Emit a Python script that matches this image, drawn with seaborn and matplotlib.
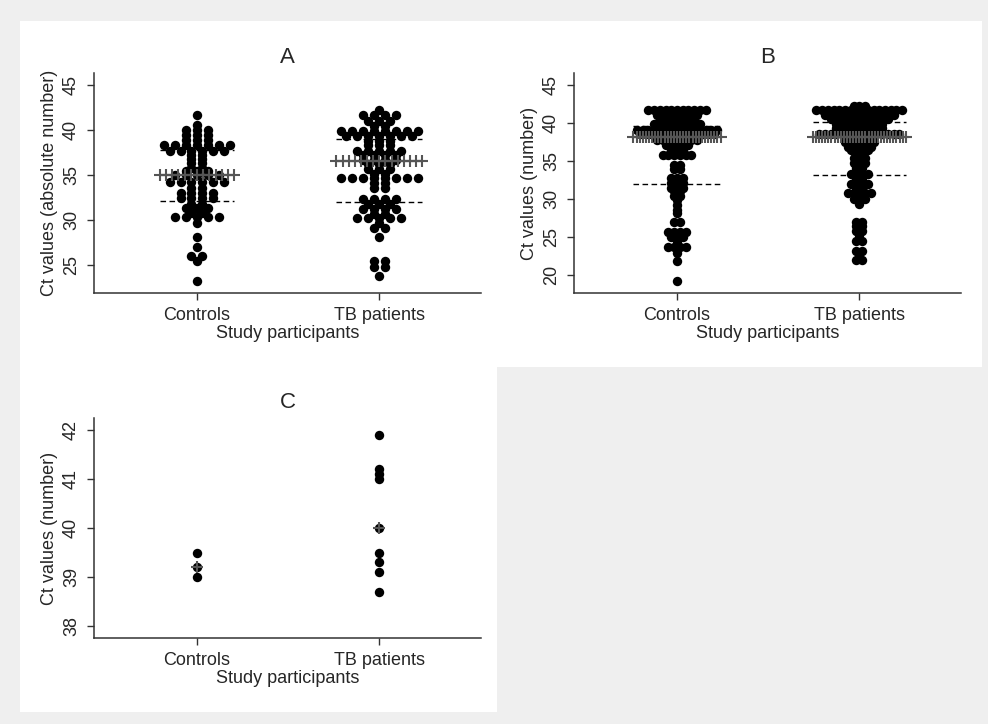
import numpy as np
import pandas as pd
import matplotlib
matplotlib.use("Agg")
import matplotlib.pyplot as plt
from matplotlib.patches import Rectangle
import seaborn as sns

sns.set_style("ticks")
plt.rcParams['font.family'] = ['Liberation Sans', 'DejaVu Sans']

groups = ["Controls", "TB patients"]

# Dot rows: Ct value of each row and how many dots sit in it
a_ctrl_vals = [41.6, 40.5, 40.0, 39.4, 38.9, 38.3, 37.7, 37.2, 36.8, 36.3, 35.8, 35.4, 35.0,
               34.2, 33.6, 33.0, 32.4, 31.8, 31.3, 30.8, 30.3, 29.7, 28.1, 27.0, 26.0, 25.5, 23.2]
a_ctrl_counts = [1, 1, 3, 3, 3, 7, 6, 2, 2, 2, 2, 3, 5, 6, 2, 4, 4, 2, 3, 2, 5, 1, 1, 1, 2, 1, 1]
a_tb_vals = [42.2, 41.6, 41.0, 40.4, 39.9, 39.3, 38.8, 38.3, 37.7, 37.2, 36.7, 36.2, 35.6, 35.1,
             34.6, 34.1, 33.6, 32.3, 31.8, 31.2, 30.7, 30.2, 29.7, 29.1, 28.1, 25.5, 24.8, 23.8]
a_tb_counts = [1, 4, 3, 2, 8, 7, 3, 3, 5, 4, 4, 3, 3, 2, 8, 2, 2, 4, 3, 4, 2, 5, 1, 2, 1, 2, 2, 1]
a_median = [35.0, 36.5]
a_q1 = [32.1, 32.0]
a_q3 = [37.8, 39.0]

b_ctrl_vals = [41.7, 41.1, 40.5, 39.9, 39.1, 38.5, 37.8, 37.1, 36.5, 35.8, 34.5, 34.0, 32.7, 32.1,
               31.5, 31.0, 30.4, 29.8, 29.2, 28.6, 28.1, 26.9, 25.7, 25.0, 24.4, 23.7, 22.9, 21.8, 19.2]
b_ctrl_counts = [11, 8, 7, 9, 15, 14, 8, 5, 3, 6, 2, 2, 3, 3, 3, 2, 2, 1, 1, 1, 1, 2, 4, 3, 1, 4, 1, 1, 1]
b_tb_vals = [42.2, 41.7, 41.1, 40.5, 39.9, 39.3, 38.5, 37.5, 36.9, 36.4, 35.4, 34.7, 34.1, 33.3,
             32.6, 32.0, 31.4, 30.8, 30.0, 29.3, 27.0, 26.4, 25.8, 25.2, 24.4, 23.2, 22.6, 22.0]
b_tb_counts = [3, 16, 13, 11, 9, 9, 15, 6, 5, 4, 3, 3, 2, 4, 2, 4, 2, 5, 3, 1, 2, 2, 2, 1, 2, 2, 1, 2]
b_median = [38.2, 38.1]
b_q1 = [32.0, 33.1]
b_q3 = [39.6, 40.2]

c_ctrl_vals = [39.5, 39.2, 39.0]
c_ctrl_counts = [1, 1, 1]
c_tb_vals = [41.9, 41.2, 41.1, 41.0, 40.0, 39.5, 39.3, 39.1, 38.7]
c_tb_counts = [1, 1, 1, 1, 1, 1, 1, 1, 1]
c_median = [39.2, 40.0]


def dotplot(ax, rows, med, q1, q3, spacing, pad, title, ylabel, ylim, yticks):
    recs = []
    for gi, (vals, counts) in enumerate(rows):
        for v, n in zip(vals, counts):
            for off in (np.arange(n) - (n - 1) / 2) * spacing:
                recs.append({"x": gi + off, "ct": v})
    df = pd.DataFrame(recs)
    sns.scatterplot(data=df, x="x", y="ct", color="black", s=46, linewidth=0,
                    ax=ax, legend=False, zorder=2)

    for gi, (vals, counts) in enumerate(rows):
        hw = (max(counts) - 1) / 2 * spacing + pad
        if q1 is not None:
            for q in (q1[gi], q3[gi]):
                ax.hlines(q, gi - hw, gi + hw, colors="black", linestyles=(0, (4, 2.5)),
                          lw=1, zorder=3)
        n = max(1, int(round(2 * hw / (spacing * 0.55))) + 1)
        xs = np.linspace(gi - hw, gi + hw, n)
        ax.plot(xs, np.full(n, med[gi]), color="#555555", ls="-", lw=1.6,
                marker="+", ms=8.5, mew=1.5, zorder=4)

    ax.set_xlim(-0.565, 1.558)
    ax.set_ylim(*ylim)
    ax.set_xticks([0, 1])
    ax.set_xticklabels(groups)
    ax.set_yticks(yticks)
    ax.set_yticklabels([str(t) for t in yticks], rotation=90, va="center")
    ax.set_xlabel("Study participants", fontsize=13, labelpad=1)
    ax.set_ylabel(ylabel, fontsize=13, labelpad=4)
    ax.set_title(title, fontsize=16, pad=7)
    ax.tick_params(labelsize=13, length=5, width=1, color="#333333", pad=5)
    sns.despine(ax=ax)
    for s in ("left", "bottom"):
        ax.spines[s].set_color("#333333")
        ax.spines[s].set_linewidth(1.1)
    ax.set_facecolor("white")


W, H = 988, 724
fig = plt.figure(figsize=(W / 100, H / 100), dpi=100, facecolor="#efefef")

# white panel backgrounds (pixels: left, top, right, bottom)
for l, t, r, b in [(20, 21, 497, 367), (497, 21, 982, 367), (20, 367, 497, 712)]:
    fig.add_artist(Rectangle((l / W, 1 - b / H), (r - l) / W, (b - t) / H,
                             transform=fig.transFigure, facecolor="white",
                             edgecolor="none", zorder=0))


def axes_at(l, t, r, b):
    return fig.add_axes([l / W, 1 - b / H, (r - l) / W, (b - t) / H])


ax_a = axes_at(94, 73, 481, 293)
ax_b = axes_at(574, 73, 961, 293)
ax_c = axes_at(94, 418, 481, 638)

dotplot(ax_a, [(a_ctrl_vals, a_ctrl_counts), (a_tb_vals, a_tb_counts)],
        a_median, a_q1, a_q3, 0.0603, 0.024, "A", "Ct values (absolute number)",
        (21.9, 46.3), [25, 30, 35, 40, 45])
dotplot(ax_b, [(b_ctrl_vals, b_ctrl_counts), (b_tb_vals, b_tb_counts)],
        b_median, b_q1, b_q3, 0.0313, 0.02, "B", "Ct values (number)",
        (17.6, 46.6), [20, 25, 30, 35, 40, 45])
dotplot(ax_c, [(c_ctrl_vals, c_ctrl_counts), (c_tb_vals, c_tb_counts)],
        c_median, None, None, 0.04, 0.0, "C", "Ct values (number)",
        (37.76, 42.24), [38, 39, 40, 41, 42])

fig.savefig("out.png", dpi=100, facecolor=fig.get_facecolor())
